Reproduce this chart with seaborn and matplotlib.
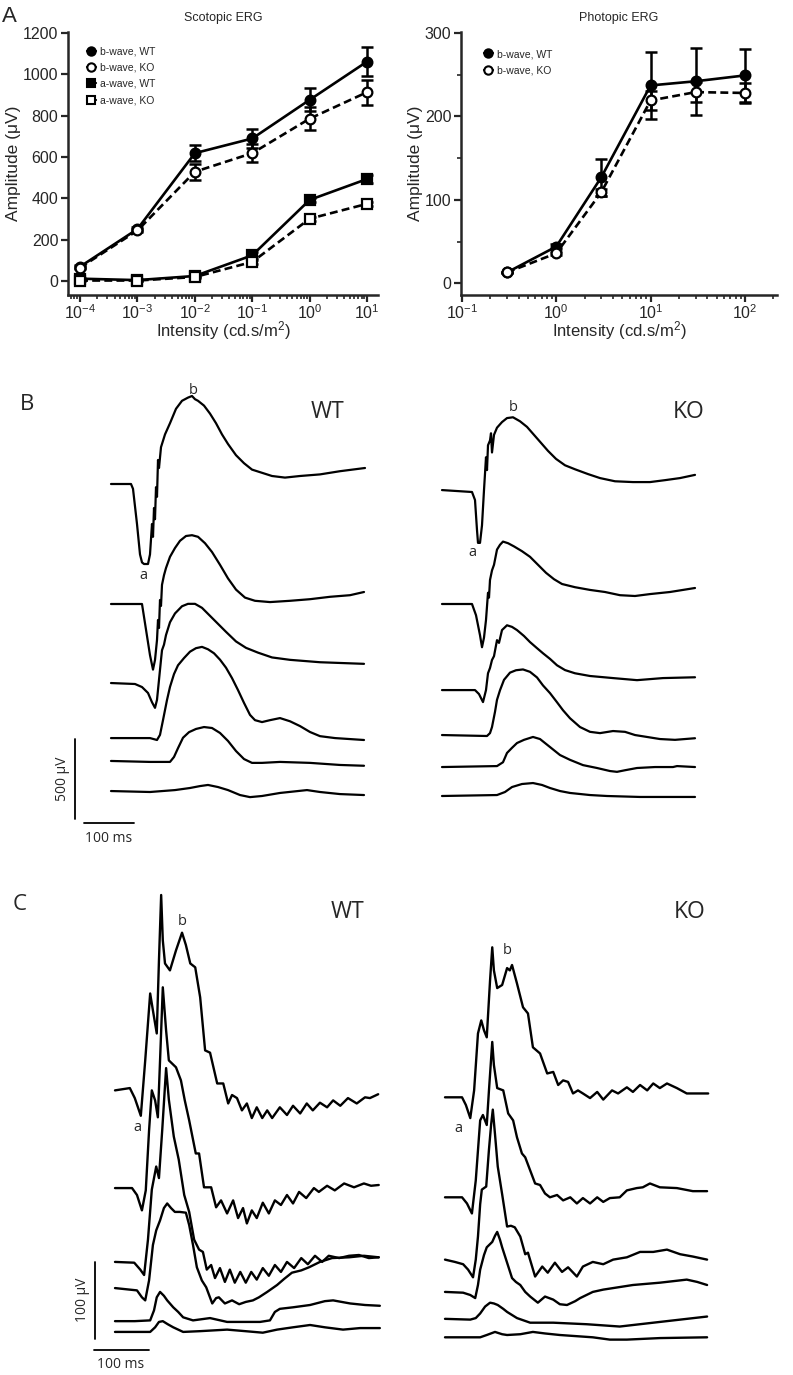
import numpy as np
import pandas as pd
import seaborn as sns
import matplotlib.pyplot as plt
from matplotlib.lines import Line2D
from matplotlib.ticker import LogLocator, MultipleLocator, NullFormatter

# ---------------- panel A data ----------------
scot_intensity = [1e-4, 1e-3, 1e-2, 1e-1, 1, 10]
scot_b_wt = [70, 252, 619, 690, 877, 1062]
scot_b_wt_err = [6, 8, 40, 45, 55, 70]
scot_b_ko = [65, 245, 529, 619, 786, 914]
scot_b_ko_err = [6, 8, 40, 45, 55, 60]
scot_a_wt = [12, 5, 25, 125, 393, 494]
scot_a_wt_err = [4, 4, 5, 15, 10, 20]
scot_a_ko = [3, 3, 20, 93, 302, 374]
scot_a_ko_err = [4, 4, 5, 10, 10, 10]

phot_intensity = [0.3, 1, 3, 10, 30, 100]
phot_b_wt = [13, 44, 127, 237, 242, 249]
phot_b_wt_err = [1, 3, 22, 40, 40, 32]
phot_b_ko = [13, 36, 109, 219, 229, 228]
phot_b_ko_err = [1, 2, 4, 11, 12, 12]

# ---------------- panel B traces (ms, uV from baseline) ----------------
B_WT_1 = [(0, 0), (40, 0), (44, -30), (52, -250), (58, -440), (62, -490), (66, -500), (74, -500),
          (78, -440), (82, -250), (84, -330), (86, -150), (88, -220), (90, -20), (92, -80), (94, 150),
          (96, 100), (100, 230), (108, 310), (118, 380), (130, 470), (142, 520), (154, 540),
          (162, 550), (168, 530), (174, 520), (186, 490), (198, 440), (210, 380), (222, 310),
          (234, 250), (250, 180), (266, 130), (282, 90), (302, 70), (322, 50), (348, 40), (378, 50),
          (418, 60), (458, 80), (508, 100)]
B_WT_2 = [(0, 0), (62, 0), (70, -160), (78, -320), (84, -410), (88, -350), (92, -225), (94, -100),
          (96, -150), (98, 25), (100, -12), (102, 120), (106, 180), (110, 225), (118, 295), (128, 350),
          (138, 395), (150, 425), (162, 430), (174, 420), (188, 380), (202, 325), (218, 245),
          (234, 160), (250, 90), (268, 40), (288, 20), (318, 12), (358, 20), (398, 30), (438, 45),
          (478, 55), (506, 75)]
B_WT_3 = [(0, 0), (48, -6), (62, -25), (74, -62), (82, -120), (88, -155), (92, -105), (96, 20),
          (100, 145), (102, 205), (106, 240), (110, 300), (118, 380), (128, 435), (142, 480),
          (154, 495), (168, 495), (182, 470), (198, 420), (214, 370), (230, 320), (250, 260),
          (270, 220), (294, 190), (322, 160), (358, 145), (418, 130), (506, 120)]
B_WT_4 = [(0, 0), (78, 0), (92, -12), (98, 20), (104, 112), (112, 238), (118, 320), (126, 400),
          (134, 455), (146, 500), (158, 540), (170, 562), (182, 570), (194, 555), (206, 530),
          (218, 490), (230, 440), (242, 375), (254, 300), (266, 220), (278, 145), (288, 112),
          (302, 100), (318, 112), (338, 125), (358, 105), (378, 75), (398, 38), (418, 12), (448, 0),
          (506, -12)]
B_WT_5 = [(0, 0), (78, -6), (118, -6), (126, 25), (134, 80), (144, 145), (156, 180), (170, 200),
          (186, 212), (202, 206), (218, 175), (234, 125), (250, 62), (266, 12), (282, -12),
          (302, -12), (338, -6), (398, -12), (458, -25), (506, -30)]
B_WT_6 = [(0, 0), (78, -6), (128, 6), (158, 19), (178, 31), (194, 38), (214, 25), (234, 6),
          (258, -25), (278, -38), (302, -31), (338, -12), (374, 0), (392, 6), (418, -6), (458, -19),
          (506, -25)]

B_KO_1 = [(0, 0), (60, -12), (66, -62), (70, -250), (72, -330), (76, -330), (80, -220), (84, 0),
          (88, 205), (90, 125), (92, 280), (96, 310), (98, 355), (100, 235), (104, 345), (110, 390),
          (120, 425), (130, 450), (142, 455), (156, 430), (170, 395), (184, 345), (198, 295),
          (212, 245), (228, 195), (246, 155), (266, 130), (292, 100), (316, 75), (346, 55),
          (382, 50), (416, 50), (446, 62), (476, 75), (506, 95)]
B_KO_2 = [(0, 0), (60, 0), (68, -70), (76, -195), (80, -270), (84, -210), (88, -100), (92, 70),
          (94, 40), (96, 150), (100, 210), (104, 245), (110, 340), (116, 370), (122, 390),
          (132, 380), (144, 360), (160, 330), (176, 295), (192, 245), (208, 195), (224, 155),
          (240, 125), (266, 105), (296, 88), (326, 75), (356, 55), (386, 50), (416, 62), (456, 75),
          (506, 100)]
B_KO_3 = [(0, 0), (66, 0), (74, -25), (82, -75), (88, 0), (92, 105), (96, 138), (100, 188),
          (104, 212), (110, 312), (114, 295), (120, 375), (130, 405), (140, 395), (150, 375),
          (164, 338), (176, 300), (190, 262), (202, 230), (216, 195), (230, 155), (246, 125),
          (266, 105), (296, 88), (342, 75), (390, 62), (442, 75), (506, 80)]
B_KO_4 = [(0, 0), (90, -6), (96, 12), (100, 50), (106, 145), (110, 220), (116, 280), (124, 345),
          (136, 390), (148, 405), (162, 410), (176, 395), (190, 360), (202, 310), (216, 262),
          (230, 205), (242, 155), (256, 105), (276, 50), (296, 20), (316, 12), (342, 25), (366, 20),
          (386, 0), (410, -12), (436, -25), (466, -30), (506, -20)]
B_KO_5 = [(0, 0), (110, 6), (122, 30), (130, 88), (140, 120), (150, 150), (164, 170), (182, 188),
          (196, 175), (216, 125), (236, 75), (256, 45), (282, 12), (310, -6), (336, -25), (350, -30),
          (366, -20), (390, -6), (426, 0), (462, 0), (470, 6), (506, 0)]
B_KO_6 = [(0, 0), (110, 6), (126, 25), (140, 56), (160, 75), (182, 81), (200, 69), (216, 50),
          (236, 31), (256, 19), (296, 6), (330, 0), (396, -6), (506, -6)]

# ---------------- panel C traces (ms, uV from baseline) ----------------
C_WT_1 = [(0, 0), (27, 3), (36, -10), (47, -33), (55, 39), (64, 126), (69, 104), (76, 74), (80, 169),
          (84, 254), (87, 195), (91, 165), (100, 156), (111, 182), (122, 205), (129, 189), (137, 165),
          (146, 160), (155, 121), (164, 52), (173, 49), (186, 9), (197, 9), (206, -17), (213, -6),
          (222, -10), (231, -26), (240, -17), (249, -36), (258, -22), (268, -36), (277, -26),
          (286, -36), (300, -22), (313, -32), (324, -20), (337, -30), (349, -17), (360, -26),
          (373, -16), (386, -22), (397, -13), (410, -20), (424, -10), (440, -17), (455, -9),
          (464, -10), (479, -5)]
C_WT_2 = [(0, 0), (31, 0), (40, -9), (49, -29), (56, -3), (62, 75), (67, 127), (73, 114), (78, 92),
          (82, 166), (87, 261), (93, 205), (98, 166), (111, 157), (120, 140), (127, 114), (135, 88),
          (147, 45), (153, 45), (162, 1), (175, 1), (184, -25), (193, -16), (204, -33), (215, -16),
          (224, -39), (233, -26), (240, -46), (249, -29), (258, -39), (269, -19), (280, -33),
          (291, -16), (302, -22), (313, -9), (324, -20), (335, -5), (348, -13), (362, 0), (371, -5),
          (386, 3), (400, -3), (417, 6), (435, 1), (453, 6), (466, 3), (480, 4)]
C_WT_3 = [(0, 0), (35, -1), (46, -10), (53, -17), (60, 29), (67, 94), (75, 124), (80, 109),
          (86, 172), (93, 252), (98, 211), (107, 163), (116, 133), (126, 87), (135, 65), (144, 29),
          (153, 16), (160, 13), (167, -10), (175, -4), (182, -21), (191, -8), (200, -26), (209, -10),
          (218, -27), (228, -13), (238, -27), (248, -13), (258, -23), (269, -8), (280, -18),
          (291, -4), (302, -13), (313, 0), (326, -8), (339, 5), (351, -3), (364, 8), (377, 0),
          (389, 8), (408, 5), (426, 8), (444, 9), (462, 5), (480, 6)]
C_WT_4 = [(0, 0), (40, -3), (49, -12), (55, -16), (62, 10), (69, 56), (75, 75), (82, 88), (89, 104),
          (95, 110), (102, 104), (109, 99), (118, 99), (129, 98), (135, 82), (142, 56), (149, 27),
          (158, 10), (166, 1), (177, -20), (184, -13), (189, -12), (200, -20), (213, -16),
          (226, -21), (238, -18), (251, -16), (262, -12), (277, -5), (295, 4), (308, 12), (322, 20),
          (339, 23), (353, 27), (373, 34), (395, 39), (426, 40), (453, 42), (480, 40)]
C_WT_5 = [(0, 0), (36, 0), (64, 1), (71, 14), (76, 31), (82, 38), (89, 33), (95, 27), (106, 18),
          (115, 12), (124, 5), (142, 1), (173, 4), (204, -1), (237, -1), (264, -1), (282, 1),
          (291, 12), (300, 16), (324, 18), (355, 21), (382, 26), (397, 27), (428, 23), (455, 21),
          (482, 20)]
C_WT_6 = [(0, 0), (64, 0), (73, 6), (80, 13), (87, 14), (96, 10), (106, 6), (124, 0), (155, 1),
          (204, 3), (237, 1), (269, -1), (295, 3), (324, 6), (355, 9), (382, 6), (415, 3), (446, 5),
          (482, 5)]

C_KO_1 = [(0, 0), (31, 0), (38, -10), (46, -27), (53, 9), (60, 83), (66, 100), (71, 87), (76, 78),
          (82, 152), (86, 195), (89, 165), (95, 142), (104, 146), (113, 168), (118, 165), (122, 172),
          (131, 148), (142, 117), (151, 109), (160, 65), (173, 57), (186, 31), (197, 33), (206, 16),
          (215, 22), (224, 20), (233, 5), (242, 9), (251, 5), (264, -1), (277, 7), (288, -3),
          (304, 9), (315, 5), (331, 13), (342, 7), (355, 16), (368, 9), (379, 18), (391, 12),
          (404, 18), (422, 12), (440, 5), (459, 5), (479, 5)]
C_KO_2 = [(0, 0), (31, 0), (40, -8), (49, -21), (56, 22), (64, 100), (69, 107), (76, 94), (80, 139),
          (86, 202), (89, 172), (95, 142), (106, 139), (115, 109), (124, 100), (131, 78), (140, 57),
          (146, 52), (155, 35), (164, 18), (173, 16), (182, 5), (191, 0), (204, 3), (215, -4),
          (228, 0), (240, -8), (251, -1), (264, -8), (277, 0), (288, -6), (300, -1), (318, 0),
          (331, 9), (349, 12), (360, 13), (373, 18), (391, 13), (422, 12), (451, 8), (477, 8)]
C_KO_3 = [(0, 0), (18, -3), (33, -6), (42, -13), (51, -23), (56, 0), (60, 30), (64, 72), (67, 91),
          (75, 95), (80, 143), (84, 176), (87, 195), (91, 163), (96, 121), (104, 85), (113, 43),
          (120, 44), (127, 42), (137, 30), (146, 7), (151, 9), (164, -22), (177, -9), (187, -17),
          (200, -4), (213, -16), (224, -10), (240, -22), (251, -9), (269, -3), (288, -6), (306, 0),
          (331, 3), (355, 10), (379, 10), (404, 13), (428, 7), (451, 4), (477, 0)]
C_KO_4 = [(0, 0), (33, -1), (46, -4), (55, -8), (60, 9), (64, 29), (71, 48), (76, 58), (86, 65),
          (91, 73), (95, 78), (100, 68), (104, 58), (113, 38), (122, 18), (129, 13), (137, 9),
          (146, 0), (155, -6), (169, -14), (182, -6), (197, -10), (209, -16), (222, -17), (237, -12),
          (246, -8), (269, 0), (288, 3), (306, 5), (342, 9), (391, 12), (440, 16), (459, 13),
          (477, 9)]
C_KO_5 = [(0, 0), (46, -1), (56, 1), (64, 7), (73, 16), (82, 21), (89, 20), (96, 18), (106, 13),
          (113, 9), (122, 5), (131, 1), (155, -5), (197, -5), (258, -7), (318, -10), (379, -5),
          (428, -1), (477, 3)]
C_KO_6 = [(0, 0), (64, 0), (76, 3), (91, 7), (104, 4), (113, 3), (137, 4), (160, 7), (182, 5),
          (209, 3), (269, 0), (300, -3), (331, -3), (391, -1), (477, 0)]

B_WT = [B_WT_1, B_WT_2, B_WT_3, B_WT_4, B_WT_5, B_WT_6]
B_KO = [B_KO_1, B_KO_2, B_KO_3, B_KO_4, B_KO_5, B_KO_6]
C_WT = [C_WT_1, C_WT_2, C_WT_3, C_WT_4, C_WT_5, C_WT_6]
C_KO = [C_KO_1, C_KO_2, C_KO_3, C_KO_4, C_KO_5, C_KO_6]

# vertical stacking of the traces (layout)
B_WT_OFFSETS = [2350, 1600, 1106, 762, 619, 431]
B_KO_OFFSETS = [2312, 1600, 1062, 781, 581, 400]
C_WT_OFFSETS = [370, 243, 147, 113, 70, 56]
C_KO_OFFSETS = [361, 231, 150, 108, 73, 49]

W, H = 793, 1375
sns.set_style("ticks")
plt.rcParams['font.family'] = ['Liberation Sans', 'DejaVu Sans']
plt.rcParams['mathtext.fontset'] = 'custom'
plt.rcParams['mathtext.rm'] = 'Liberation Sans'
plt.rcParams['mathtext.it'] = 'Liberation Sans:italic'
TRACE_FONT = ['Open Sans', 'DejaVu Sans']


def px_rect(x0, y0, x1, y1):
    return [x0 / W, 1 - y1 / H, (x1 - x0) / W, (y1 - y0) / H]


def draw_series(ax, x, y, err, marker, filled, dashed):
    ax.errorbar(x, y, yerr=err, fmt='none', ecolor='black', elinewidth=1.8,
                capsize=4, capthick=1.8, zorder=2)
    sns.lineplot(x=x, y=y, ax=ax, color='black', lw=1.9, marker=marker, markersize=7,
                 markerfacecolor='black' if filled else 'white', markeredgecolor='black',
                 markeredgewidth=1.6, linestyle=(0, (3, 1.6)) if dashed else '-',
                 zorder=3, legend=False)


def style_dose_axes(ax):
    ax.set_xscale('log')
    sns.despine(ax=ax)
    for s in ['left', 'bottom']:
        ax.spines[s].set_linewidth(1.8)
    ax.xaxis.set_minor_locator(LogLocator(base=10, subs=np.arange(2, 10)))
    ax.xaxis.set_minor_formatter(NullFormatter())
    ax.tick_params(which='major', direction='out', length=5, width=1.6, labelsize=11.5, pad=2)
    ax.tick_params(axis='x', which='major', pad=1)
    ax.tick_params(which='minor', direction='out', length=3, width=1.2)
    ax.set_xlabel('Intensity (cd.s/m$^2$)', fontsize=12, labelpad=-2)
    ax.set_ylabel('Amplitude (\u03bcV)', fontsize=12.5, labelpad=1)


def legend_handle(marker, filled):
    return Line2D([], [], color='black', lw=1.6, marker=marker, markersize=6,
                  markerfacecolor='black' if filled else 'white', markeredgecolor='black',
                  markeredgewidth=1.5, linestyle='-')


fig = plt.figure(figsize=(W / 100, H / 100), dpi=100)

# ---- A: scotopic ----
ax1 = fig.add_axes(px_rect(68, 32, 378, 295))
draw_series(ax1, scot_intensity, scot_b_wt, scot_b_wt_err, 'o', True, False)
draw_series(ax1, scot_intensity, scot_b_ko, scot_b_ko_err, 'o', False, True)
draw_series(ax1, scot_intensity, scot_a_wt, scot_a_wt_err, 's', True, False)
draw_series(ax1, scot_intensity, scot_a_ko, scot_a_ko_err, 's', False, True)
ax1.set_xlim(10 ** -4.21, 10 ** 1.19)
ax1.set_ylim(-67, 1205)
ax1.set_yticks(range(0, 1201, 200))
ax1.set_xticks(scot_intensity)
style_dose_axes(ax1)
ax1.set_title('Scotopic ERG', fontsize=9, pad=8)
ax1.legend([legend_handle('o', True), legend_handle('o', False),
            legend_handle('s', True), legend_handle('s', False)],
           ['b-wave, WT', 'b-wave, KO', 'a-wave, WT', 'a-wave, KO'],
           loc='upper left', bbox_to_anchor=(0.06, 0.945), frameon=False, fontsize=7.5,
           handlelength=0.9, handletextpad=0.4, labelspacing=0.6, borderpad=0, borderaxespad=0)

# ---- A: photopic ----
ax2 = fig.add_axes(px_rect(461, 32, 777, 295))
draw_series(ax2, phot_intensity, phot_b_wt, phot_b_wt_err, 'o', True, False)
draw_series(ax2, phot_intensity, phot_b_ko, phot_b_ko_err, 'o', False, True)
ax2.set_xlim(10 ** -1.01, 10 ** 2.34)
ax2.set_ylim(-14, 301)
ax2.set_yticks([0, 100, 200, 300])
ax2.yaxis.set_minor_locator(MultipleLocator(50))
ax2.set_xticks([0.1, 1, 10, 100])
style_dose_axes(ax2)
ax2.set_title('Photopic ERG', fontsize=9, pad=8)
ax2.legend([legend_handle('o', True), legend_handle('o', False)],
           ['b-wave, WT', 'b-wave, KO'],
           loc='upper left', bbox_to_anchor=(0.072, 0.935), frameon=False, fontsize=7.5,
           handlelength=0.9, handletextpad=0.4, labelspacing=0.6, borderpad=0, borderaxespad=0)


def draw_traces(ax, traces, offsets, lw):
    for tr, off in zip(traces, offsets):
        df = pd.DataFrame(tr, columns=['ms', 'uV'])
        df['uV'] = df['uV'] + off
        sns.lineplot(data=df, x='ms', y='uV', ax=ax, color='black', lw=lw,
                     estimator=None, sort=False, legend=False)
    ax.set_axis_off()


# ---- B ----
axb1 = fig.add_axes(px_rect(40, 370, 400, 860))
draw_traces(axb1, B_WT, B_WT_OFFSETS, 1.6)
axb1.set_xlim(-142, 578)
axb1.set_ylim(0, 3062.5)
axb1.plot([-72, -72], [256, 756], color='black', lw=1.3)
axb1.plot([-54, 46], [231, 231], color='black', lw=1.3)
axb1.text(-98, 506, '500 \u03bcV', rotation=90, ha='center', va='center', fontsize=10, family=TRACE_FONT)
axb1.text(-4, 137, '100 ms', ha='center', va='center', fontsize=10, family=TRACE_FONT)
axb1.text(164, 2937, 'b', ha='center', va='center', fontsize=10.5, family=TRACE_FONT)
axb1.text(64, 1781, 'a', ha='center', va='center', fontsize=10.5, family=TRACE_FONT)
axb1.text(434, 2800, 'WT', ha='center', va='center', fontsize=16.5, family=TRACE_FONT)

axb2 = fig.add_axes(px_rect(410, 370, 770, 860))
draw_traces(axb2, B_KO, B_KO_OFFSETS, 1.6)
axb2.set_xlim(-64, 656)
axb2.set_ylim(0, 3062.5)
axb2.text(142, 2825, 'b', ha='center', va='center', fontsize=10.5, family=TRACE_FONT)
axb2.text(60, 1925, 'a', ha='center', va='center', fontsize=10.5, family=TRACE_FONT)
axb2.text(494, 2800, 'KO', ha='center', va='center', fontsize=16.5, family=TRACE_FONT)

# ---- C ----
axc1 = fig.add_axes(px_rect(40, 860, 400, 1375))
draw_traces(axc1, C_WT, C_WT_OFFSETS, 1.7)
axc1.set_xlim(-136.5, 518.7)
axc1.set_ylim(0, 669.5)
axc1.plot([-36.4, -36.4], [46.8, 146.8], color='black', lw=1.3)
axc1.plot([-38, 62], [32.5, 32.5], color='black', lw=1.3)
axc1.text(-60, 97.5, '100 \u03bcV', rotation=90, ha='center', va='center', fontsize=10, family=TRACE_FONT)
axc1.text(11, 13, '100 ms', ha='center', va='center', fontsize=10, family=TRACE_FONT)
axc1.text(122, 589, 'b', ha='center', va='center', fontsize=10.5, family=TRACE_FONT)
axc1.text(40, 322, 'a', ha='center', va='center', fontsize=10.5, family=TRACE_FONT)
axc1.text(424, 602, 'WT', ha='center', va='center', fontsize=16.5, family=TRACE_FONT)

axc2 = fig.add_axes(px_rect(410, 860, 770, 1375))
draw_traces(axc2, C_KO, C_KO_OFFSETS, 1.7)
axc2.set_xlim(-63.7, 591.5)
axc2.set_ylim(0, 669.5)
axc2.text(113, 552, 'b', ha='center', va='center', fontsize=10.5, family=TRACE_FONT)
axc2.text(25, 321, 'a', ha='center', va='center', fontsize=10.5, family=TRACE_FONT)
axc2.text(445, 602, 'KO', ha='center', va='center', fontsize=16.5, family=TRACE_FONT)

# panel letters
fig.text(9 / W, 1 - 17 / H, 'A', ha='center', va='center', fontsize=16)
fig.text(27 / W, 1 - 405 / H, 'B', ha='center', va='center', fontsize=16, family=TRACE_FONT)
fig.text(20 / W, 1 - 905 / H, 'C', ha='center', va='center', fontsize=16, family=TRACE_FONT)

fig.savefig('out.png', dpi=100)
